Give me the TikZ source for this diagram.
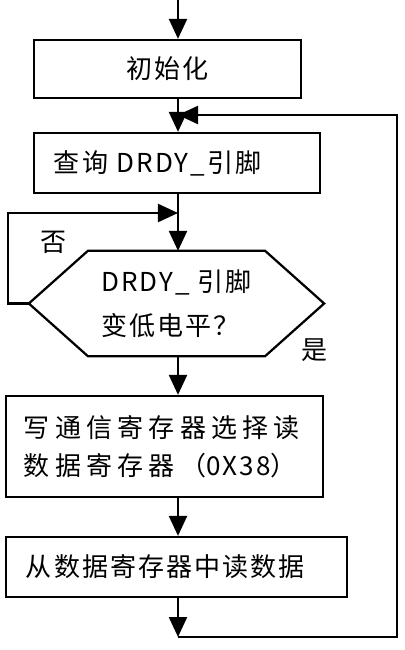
\documentclass[tikz,border=0pt]{standalone}
\usepackage{fontspec}
\setmainfont{Noto Sans CJK SC}[LetterSpace=8]
\usetikzlibrary{arrows.meta}

\tikzset{
  box/.style={draw, line width=1.6pt, minimum height=1.5cm, align=left, inner xsep=0.5cm},
  flow/.style={line width=1.6pt, -{Triangle[length=0.5cm,width=0.45cm]}},
}

\begin{document}
\begin{tikzpicture}[x=0.025cm, y=-0.025cm, line width=1.6pt, font=\fontsize{18.5}{27}\selectfont]
\useasboundingbox (0,0) rectangle (405,650);

\coordinate (in) at (178,0);
\coordinate (back) at (397,115);
\coordinate (loopL) at (8,213);
\coordinate (out) at (178,637);

\draw (167.5,69) node[box, minimum width=6.675cm, minimum height=1.45cm] (init) {初始化};

\draw (177,163) node[box, text width=6.15cm] (query) {查询 DRDY\_引脚};

\draw (176.5,303.5) node[minimum width=7.325cm, minimum height=2.575cm, align=left, font=\fontsize{18.5}{31}\selectfont] (dec) {DRDY\_ 引脚\\变低电平？};
\draw (dec.west) -- ([xshift=1.475cm]dec.north west) -- ([xshift=-1.475cm]dec.north east)
   -- (dec.east) -- ([xshift=-1.475cm]dec.south east) -- ([xshift=1.475cm]dec.south west) -- cycle;

\draw (164.5,446.5) node[box, text width=7.025cm, inner xsep=0.45cm, minimum height=2.525cm, font=\fontsize{18.5}{27}\selectfont\addfontfeature{LetterSpace=20}] (write) {写通信寄存器选择读\\数据寄存器（{\addfontfeature{LetterSpace=8}0X38}）};

\draw (176.5,567) node[box, text width=7.525cm] (read) {从数据寄存器中读数据};

\draw (54,242) node (no) {否};
\draw (315,350) node (yes) {是};

\draw[flow] (in) -- (in |- init.north);
\draw[flow] (init.south -| in) -- (query.north -| in);
\draw[flow] (query.south -| in) -- (dec.north -| in);
\draw[flow] (dec.south -| in) -- (write.north -| in);
\draw[flow] (write.south -| in) -- (read.north -| in);
\draw[flow] (read.south -| in) -- (out);
\draw[flow] (out) -- (out -| back) -- (back) -- (back -| in);
\draw[flow] (dec.west) -- (dec.west -| loopL) -- (loopL) -- (loopL -| in);
\end{tikzpicture}
\end{document}
